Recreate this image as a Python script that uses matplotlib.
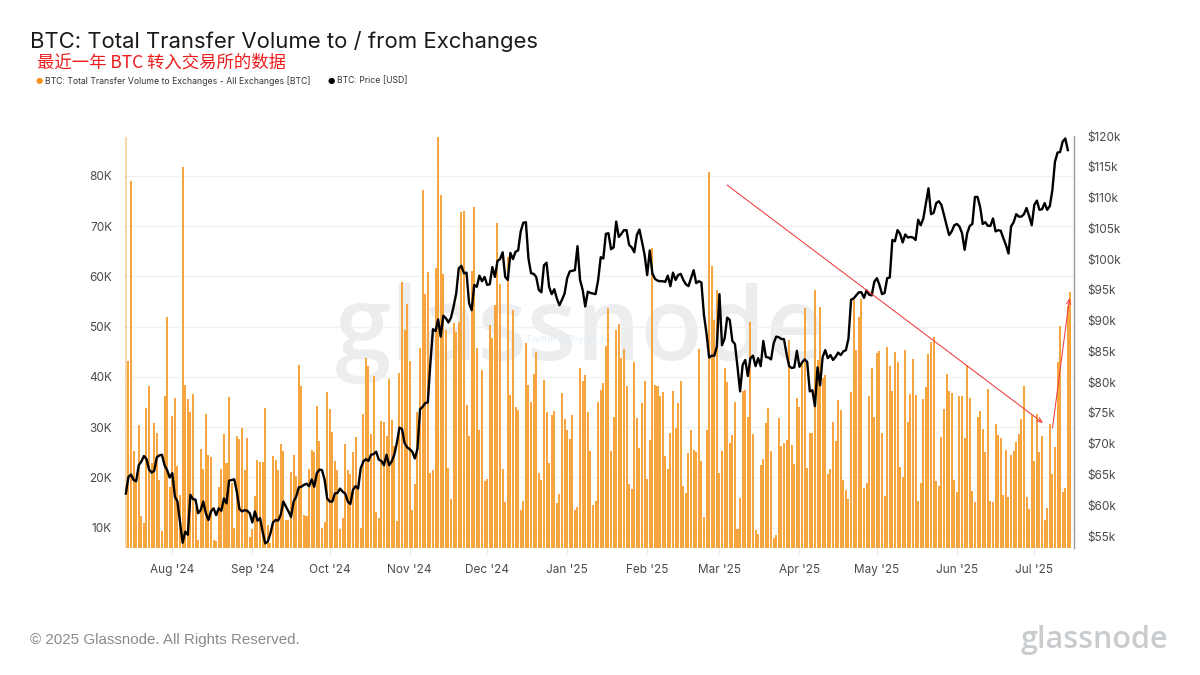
import numpy as np
import matplotlib
matplotlib.use("Agg")
import matplotlib.pyplot as plt
import matplotlib.dates as mdates
import datetime as dt

start_date = dt.date(2024, 7, 14)
tick_dates = [dt.date(2024, m, 1) for m in range(8, 13)] + [dt.date(2025, m, 1) for m in range(1, 8)]
tick_labels = ["Aug '24", "Sep '24", "Oct '24", "Nov '24", "Dec '24", "Jan '25", "Feb '25", "Mar '25", "Apr '25", "May '25", "Jun '25", "Jul '25"]
left_ticks = [10, 20, 30, 40, 50, 60, 70, 80]
right_ticks = list(range(55, 125, 5))

# Transfer volume to exchanges, thousand BTC per day
volume = [
87.8,43.1,78.9,25.2,19.5,30.5,12.3,10.9,33.8,38.2,22.9,30.8,28.8,19.5,9.3,36.2,52.0,18.1,32.3,35.8,22.2,16.6,81.7,38.4,35.6,33.1,36.6,14.2,7.6,25.7,21.7,32.7,24.5,24.0,7.6,7.3,18.1,21.7,28.6,22.9,36.0,18.9,9.9,28.2,27.7,29.9,21.5,27.8,8.1,9.8,16.4,23.4,23.0,23.1,33.9,10.6,7.0,24.3,23.5,21.5,26.7,25.2,11.5,11.6,21.0,24.4,20.3,42.3,38.2,12.5,12.3,21.7,25.5,25.0,34.3,27.2,9.9,11.1,37.0,33.6,29.0,23.3,21.5,9.8,11.9,26.7,21.5,20.7,25.0,28.0,18.2,9.9,32.7,43.7,42.2,28.7,40.2,13.1,11.9,31.3,31.0,28.2,39.6,31.5,26.2,11.3,40.7,58.8,49.4,54.5,43.2,13.6,18.7,33.1,45.7,77.1,56.5,60.8,20.9,21.5,61.6,87.8,76.2,60.4,
49.4,21.9,15.7,50.7,49.0,51.0,72.7,73.0,34.5,28.2,61.0,73.8,45.7,29.5,41.4,19.2,19.7,50.4,47.7,54.3,70.6,58.5,21.7,15.2,63.9,36.4,53.3,34.1,33.5,13.6,15.4,46.7,38.4,35.1,40.5,44.9,20.9,19.5,39.3,33.1,22.9,32.5,33.3,14.9,16.8,36.8,31.6,29.5,27.7,32.5,13.6,14.1,41.7,39.2,40.4,33.0,25.2,14.6,15.4,35.1,37.3,38.8,46.2,53.7,25.2,32.1,49.4,50.6,43.7,45.6,38.1,18.7,17.7,42.9,31.9,25.8,34.8,39.1,19.7,27.5,65.7,38.3,38.1,36.1,37.0,24.2,21.7,28.8,37.1,29.8,34.9,39.1,18.2,16.9,24.8,29.5,25.4,25.0,45.6,23.3,12.1,29.5,80.7,62.0,51.4,57.2,20.9,25.2,41.7,39.0,26.8,28.5,35.1,9.8,15.9,37.1,37.4,32.1,51.0,28.6,9.6,8.8,22.4,23.7,
30.8,33.9,25.2,7.9,8.6,31.8,26.2,26.8,27.5,47.4,26.4,22.7,35.8,34.1,42.7,53.7,21.9,28.8,28.8,57.3,43.4,53.8,39.8,40.4,20.7,21.7,31.1,27.2,35.4,33.5,19.5,17.6,15.7,36.9,55.3,45.4,52.0,55.5,17.9,18.9,36.1,41.7,32.1,44.7,45.1,28.8,16.4,45.9,42.1,37.1,44.9,42.9,22.1,20.0,45.4,31.1,36.6,43.5,36.3,15.4,18.9,35.6,38.0,44.6,46.9,47.9,19.2,18.2,28.0,33.7,40.5,37.1,36.8,19.4,17.2,36.1,36.1,27.8,42.4,35.8,17.4,15.1,32.1,33.3,29.6,25.0,37.6,15.4,15.2,30.7,28.5,27.8,16.6,25.5,16.2,24.4,25.2,27.0,28.7,31.6,38.2,16.2,13.8,32.5,23.2,32.7,25.0,28.2,11.5,13.9,30.6,20.7,26.0,42.9,50.2,17.2,17.9,54.0,56.8]

# BTC price, thousand USD per day
price = [
61.9,64.6,65.0,64.1,63.9,66.5,67.1,68.0,67.5,65.8,65.3,65.6,67.8,68.1,68.2,66.5,65.7,64.5,65.2,61.4,60.6,57.3,53.9,55.7,55.2,61.7,61.0,60.9,58.7,59.2,60.6,58.7,57.6,59.0,59.5,58.4,59.5,59.1,61.1,60.3,64.0,64.1,64.2,62.2,59.4,59.0,59.2,59.1,58.7,57.2,59.0,57.5,57.9,55.7,53.8,54.1,55.4,57.2,57.6,57.5,58.4,60.6,59.8,59.0,58.1,60.6,61.4,62.9,63.0,63.3,63.5,63.1,64.2,63.0,65.2,65.8,65.7,64.2,61.1,60.6,60.6,61.9,62.0,62.7,62.2,61.9,60.6,60.2,62.5,63.1,62.7,66.0,67.1,67.5,67.2,68.2,68.3,68.7,67.4,67.2,66.5,68.2,66.5,67.1,68.2,70.1,72.6,72.4,70.1,69.4,69.1,68.7,67.6,69.2,75.6,76.0,76.6,76.7,83.1,88.6,88.3,90.2,87.4,
90.8,90.4,89.7,90.5,92.3,94.4,98.5,98.9,97.7,97.8,92.8,91.7,95.8,95.5,97.3,96.4,97.1,95.8,95.9,98.7,97.1,99.7,100.0,101.1,97.1,96.6,101.0,100.0,101.2,101.4,104.5,105.9,106.0,100.1,97.7,97.6,97.1,95.0,94.6,99.0,99.4,95.5,94.3,95.1,93.6,92.5,93.4,94.4,96.9,98.0,98.1,98.2,102.1,96.6,95.0,92.3,94.7,94.5,94.4,94.3,96.6,100.3,100.1,104.1,104.2,101.6,101.9,106.1,103.6,104.1,104.7,104.7,102.3,101.9,101.1,103.9,104.8,102.8,100.7,97.4,101.4,97.7,96.8,96.5,96.4,96.4,96.3,97.3,95.6,97.8,96.6,97.4,97.6,96.6,95.9,95.6,96.9,98.2,96.1,96.4,96.2,90.9,87.9,84.0,84.3,84.3,85.8,94.3,86.0,87.1,90.5,90.1,86.7,86.2,82.5,78.5,82.8,83.6,81.0,83.9,84.3,82.6,83.9,82.6,
86.7,84.1,84.0,83.7,86.3,87.4,87.3,87.0,87.0,84.6,82.6,82.3,82.4,85.1,82.5,83.2,83.7,83.3,78.5,78.7,76.1,82.4,79.5,84.1,85.2,83.9,84.4,83.6,84.1,84.8,84.4,85.0,85.2,87.1,93.4,93.6,94.1,94.6,94.6,93.7,94.9,94.2,94.1,96.3,96.9,95.8,94.3,94.5,96.9,97.0,103.1,102.9,104.7,104.1,102.7,104.0,103.5,103.6,103.5,103.1,106.4,105.5,106.6,109.1,111.5,107.3,107.5,109.1,109.4,108.8,107.2,105.5,103.9,104.5,105.5,105.7,105.3,104.2,101.5,104.2,105.4,105.7,110.1,110.1,108.5,105.7,106.0,105.4,105.4,106.6,104.5,104.7,104.6,103.4,102.3,100.9,105.3,106.0,107.3,106.9,106.9,107.3,108.3,107.0,105.5,108.8,109.5,108.0,108.1,109.1,108.0,108.6,111.2,115.8,117.3,117.4,119.1,119.6,117.7]

W, H = 1200, 675
plt.rcParams['font.family'] = ['Inter', 'DejaVu Sans']
fig = plt.figure(figsize=(12, 6.75), dpi=100, facecolor='white')
ax = fig.add_axes([124 / W, 1 - 548 / H, 950 / W, 412 / H])
ax.patch.set_alpha(0)

start_num = mdates.date2num(start_date)
xv = start_num + np.arange(len(volume))
xp = start_num + np.arange(len(price))
bars = ax.bar(xv, volume, width=0.78, color='#f7a63f', linewidth=0, zorder=3)
bars[0].set_alpha(0.45)

aug = mdates.date2num(dt.date(2024, 8, 1))
jul = mdates.date2num(dt.date(2025, 7, 1))
ppd = (1034.3 - 172.3) / (jul - aug)
ax.set_xlim(aug - (172.3 - 124) / ppd, jul + (1074 - 1034.3) / ppd)
ax.set_ylim(5.97, 87.9)
ax.set_yticks(left_ticks)
ax.set_yticklabels([f"{v}K" for v in left_ticks])
ax.set_xticks(mdates.date2num(tick_dates))
ax.set_xticklabels(tick_labels)
ax.tick_params(axis='y', length=0, pad=8.6, labelsize=8.5, labelcolor='#4a4a4a')
ax.tick_params(axis='x', length=4, width=0.8, color='#e8e8e8', pad=7.6, labelsize=8.5, labelcolor='#4a4a4a')
ax.grid(axis='y', color='#f1f1f1', linewidth=1, zorder=1)
ax.set_axisbelow(True)
for s in ax.spines.values():
    s.set_visible(False)

ax2 = ax.twinx()
ax2.patch.set_alpha(0)
ax2.plot(xp, price, color='black', linewidth=1.7, solid_joinstyle='round', zorder=5)
ax2.set_ylim(53.05, 120.0)
ax2.set_yticks(right_ticks)
ax2.set_yticklabels([f"${v}k" for v in right_ticks])
ax2.tick_params(axis='y', length=0, pad=9.4, labelsize=8.5, labelcolor='#4a4a4a')
for k, s in ax2.spines.items():
    s.set_visible(k == 'right')
ax2.spines['right'].set_color('#9a9a9a')
ax2.spines['right'].set_linewidth(1.0)

# Watermarks
ax.text(580 / W, 1 - 333 / H, 'glassnode', transform=fig.transFigure, ha='center', va='center',
        fontsize=73, color='#ebedef', family='Open Sans', zorder=0, fontweight='semibold')
ax.text(568 / W, 1 - 339 / H, 'Twitter @Phyrex_Ni', transform=fig.transFigure, ha='center', va='center',
        fontsize=6.5, color='#e3edf5', zorder=1)

# Red annotation arrows
for p0, p1 in [((727, 185), (1043, 423)), ((1052.5, 428), (1069.5, 298))]:
    ax2.annotate('', xy=(p1[0] / W, 1 - p1[1] / H), xytext=(p0[0] / W, 1 - p0[1] / H),
                 xycoords='figure fraction', textcoords='figure fraction',
                 arrowprops=dict(arrowstyle='->,head_length=0.35,head_width=0.15', color='#ee3b3b',
                                 linewidth=0.75, shrinkA=0, shrinkB=0), zorder=6)

# Header
fig.text(30 / W, 1 - 41 / H, 'BTC: Total Transfer Volume to / from Exchanges', fontsize=15.9,
         color='#1a1a1a', va='center', ha='left')
fig.text(37 / W, 1 - 63 / H, '最近一年 BTC 转入交易所的数据', fontsize=12.5, color='#ee1c1c', va='center', ha='left',
         family=['Noto Sans CJK SC', 'DejaVu Sans'])
fig.text(45 / W, 1 - 81 / H, 'BTC: Total Transfer Volume to Exchanges - All Exchanges [BTC]', fontsize=6.25,
         color='#333333', va='center', ha='left')
fig.text(337 / W, 1 - 81 / H, 'BTC: Price [USD]', fontsize=6.25, color='#333333', va='center', ha='left')
fig.text(39 / W, 1 - 81 / H, '●', fontsize=6, color='#f7931a', va='center', ha='center', family='DejaVu Sans')
fig.text(331 / W, 1 - 81 / H, '●', fontsize=6, color='black', va='center', ha='center', family='DejaVu Sans')

# Footer
fig.text(30 / W, 1 - 640 / H, '© 2025 Glassnode. All Rights Reserved.', fontsize=10.9, color='#8a8a8a',
         va='center', ha='left', family='Liberation Sans')
fig.text(1168 / W, 1 - 640 / H, 'glassnode', fontsize=22, color='#c9cccf', va='center', ha='right',
         family='Open Sans', fontweight='semibold')

fig.savefig('out.png', dpi=100, facecolor='white')
